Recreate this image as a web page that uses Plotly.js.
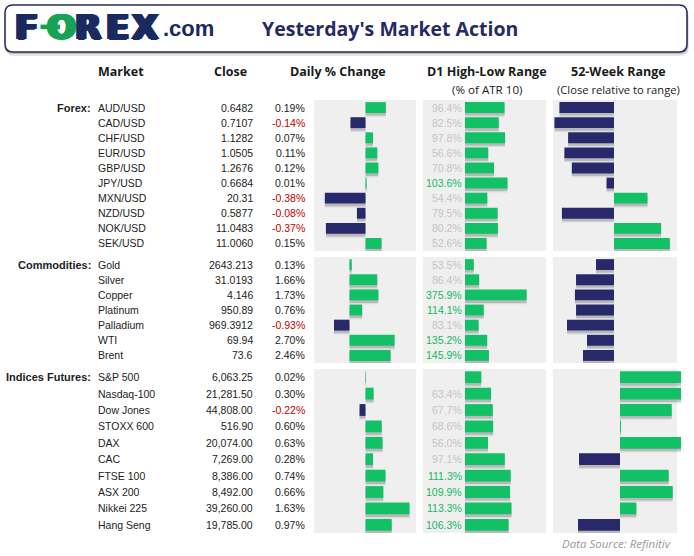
<!DOCTYPE html>
<html>
<head>
<meta charset="utf-8">
<script src="https://cdn.plot.ly/plotly-3.0.1.min.js"></script>
<style>html,body{margin:0;padding:0;background:#fff;}#chart{width:694px;height:556px;}</style>
</head>
<body>
<div id="chart"></div>
<script>
// ---------------- DATA ----------------
const columnHeaders = ['Market', 'Close', 'Daily % Change', 'D1 High-Low Range', '52-Week Range'];
const columnSubHeaders = ['(% of ATR 10)', '(Close relative to range)'];
const sectionLabels = ['Forex:', 'Commodities:', 'Indices Futures:'];

const fxMarkets = ['AUD/USD','CAD/USD','CHF/USD','EUR/USD','GBP/USD','JPY/USD','MXN/USD','NZD/USD','NOK/USD','SEK/USD'];
const fxClose   = ['0.6482','0.7107','1.1282','1.0505','1.2676','0.6684','20.31','0.5877','11.0483','11.0060'];
const fxChange  = [0.19,-0.14,0.07,0.11,0.12,0.01,-0.38,-0.08,-0.37,0.15];
const fxD1      = [96.4,82.5,97.8,56.6,70.8,103.6,54.4,79.5,80.2,52.6];
const fxD1Labels = ['96.4%','82.5%','97.8%','56.6%','70.8%','103.6%','54.4%','79.5%','80.2%','52.6%'];
const fxWeek52  = [-44,-48,-37,-40,-34,-6,27,-42,38,45];

const cmMarkets = ['Gold','Silver','Copper','Platinum','Palladium','WTI','Brent'];
const cmClose   = ['2643.213','31.0193','4.146','950.89','969.3912','69.94','73.6'];
const cmChange  = [0.13,1.66,1.73,0.76,-0.93,2.70,2.46];
const cmD1      = [53.5,86.4,375.9,114.1,83.1,135.2,145.9];
const cmD1Labels = ['53.5%','86.4%','375.9%','114.1%','83.1%','135.2%','145.9%'];
const cmWeek52  = [-14.5,-30.6,-31.5,-30.6,-37.9,-21.8,-25];

const ixMarkets = ['S&P 500','Nasdaq-100','Dow Jones','STOXX 600','DAX','CAC','FTSE 100','ASX 200','Nikkei 225','Hang Seng'];
const ixClose   = ['6,063.25','21,281.50','44,808.00','516.90','20,074.00','7,269.00','8,386.00','8,492.00','39,260.00','19,785.00'];
const ixChange  = [0.02,0.30,-0.22,0.60,0.63,0.28,0.74,0.66,1.63,0.97];
const ixD1      = [39.7,63.4,67.7,68.6,56.0,97.1,111.3,109.9,113.3,106.3];
const ixD1Labels = ['','63.4%','67.7%','68.6%','56.0%','97.1%','111.3%','109.9%','113.3%','106.3%'];
const ixWeek52  = [50,50,42.4,0.8,50,-33.6,39.9,43.2,13.4,-34.4];

// ---------------- LAYOUT HELPERS ----------------
const W = 694, H = 556;
const X = p => p / W, Y = p => 1 - p / H;
const GREEN = '#12c165', NAVY = '#28296b';
const PANEL = '#efefef';
const TXT = '#222222';
const ROWFONT = 'Liberation Sans, Arial, sans-serif';
const HEADFONT = 'Open Sans, sans-serif';

const sections = [
  {label: sectionLabels[0], markets: fxMarkets, close: fxClose, change: fxChange, d1: fxD1, d1Labels: fxD1Labels, wk: fxWeek52,
   top: 100, bottom: 251, chgZero: 365.5, chgK: 107, d1K: 0.41, wkZero: 614, wkK: 1.24},
  {label: sectionLabels[1], markets: cmMarkets, close: cmClose, change: cmChange, d1: cmD1, d1Labels: cmD1Labels, wk: cmWeek52,
   top: 257, bottom: 363, chgZero: 349.5, chgK: 16.7, d1K: 0.164, wkZero: 614, wkK: 1.24},
  {label: sectionLabels[2], markets: ixMarkets, close: ixClose, change: ixChange, d1: ixD1, d1Labels: ixD1Labels, wk: ixWeek52,
   top: 369, bottom: 533, chgZero: 365.5, chgK: 27, d1K: 0.41, wkZero: 620, wkK: 1.22}
];

const layout = {
  width: W, height: H,
  margin: {l: 0, r: 0, t: 0, b: 0},
  paper_bgcolor: '#ffffff',
  plot_bgcolor: 'rgba(0,0,0,0)',
  barmode: 'overlay',
  showlegend: false,
  annotations: [],
  shapes: []
};
const traces = [];

function ann(o) {
  layout.annotations.push(Object.assign({showarrow: false, borderpad: 0, yanchor: 'middle'}, o));
}

sections.forEach((s, si) => {
  const n = s.markets.length;
  const rows = s.markets.map((_, i) => i);
  const pitch = (s.bottom - s.top) / n;
  const bw = 0.72;
  const sh = 2.6 / pitch;
  const cols = [
    {vals: s.change, left: 314, right: 416, zero: s.chgZero, k: s.chgK, two: true},
    {vals: s.d1, left: 423, right: 546, zero: 465, k: s.d1K, two: false},
    {vals: s.wk, left: 553, right: 677, zero: s.wkZero, k: s.wkK, two: true}
  ];
  cols.forEach((c, ci) => {
    const idx = si * 3 + ci + 1;
    const sfx = idx === 1 ? '' : String(idx);
    // grey panel
    layout.shapes.push({type: 'rect', xref: 'paper', yref: 'paper', layer: 'below',
      x0: X(c.left), x1: X(c.right), y0: Y(s.bottom), y1: Y(s.top), fillcolor: PANEL, line: {width: 0}});
    const right = c.right + 8; // allow bars to run slightly past the panel
    layout['xaxis' + sfx] = {
      domain: [X(c.left), X(right)],
      range: [-(c.zero - c.left) / c.k, (right - c.zero) / c.k],
      visible: false, showgrid: false, zeroline: false, fixedrange: true, anchor: 'y' + sfx
    };
    layout['yaxis' + sfx] = {
      domain: [Y(s.bottom), Y(s.top)],
      range: [n - 0.5, -0.5],
      visible: false, showgrid: false, zeroline: false, fixedrange: true, anchor: 'x' + sfx
    };
    const colors = c.vals.map(v => (c.two && v < 0) ? NAVY : GREEN);
    traces.push({type: 'bar', orientation: 'h', x: c.vals, y: rows, xaxis: 'x' + sfx, yaxis: 'y' + sfx,
      width: bw, offset: -bw / 2 + sh * 1.5, marker: {color: 'rgba(0,0,0,0.08)', line: {width: 0}},
      hoverinfo: 'skip'});
    traces.push({type: 'bar', orientation: 'h', x: c.vals, y: rows, xaxis: 'x' + sfx, yaxis: 'y' + sfx,
      width: bw, offset: -bw / 2 + sh, marker: {color: 'rgba(0,0,0,0.16)', line: {width: 0}},
      hoverinfo: 'skip'});
    traces.push({type: 'bar', orientation: 'h', x: c.vals, y: rows, xaxis: 'x' + sfx, yaxis: 'y' + sfx,
      width: bw, offset: -bw / 2, marker: {color: colors, line: {width: 0}},
      hoverinfo: 'skip'});
  });

  const yref = 'y' + (si === 0 ? '' : String(si * 3 + 1));
  ann({xref: 'paper', yref: yref, x: X(92), y: 0, xanchor: 'right', text: '<b>' + s.label + '</b>',
       font: {family: ROWFONT, size: 11, color: TXT}});
  s.markets.forEach((m, i) => {
    ann({xref: 'paper', yref: yref, x: X(97), y: i, xanchor: 'left', text: m,
         font: {family: ROWFONT, size: 10.5, color: TXT}});
    ann({xref: 'paper', yref: yref, x: X(253.5), y: i, xanchor: 'right', text: s.close[i],
         font: {family: ROWFONT, size: 10.5, color: TXT}});
    const v = s.change[i];
    ann({xref: 'paper', yref: yref, x: X(305.5), y: i, xanchor: 'right', text: v.toFixed(2) + '%',
         font: {family: ROWFONT, size: 10.5, color: v < 0 ? '#c00000' : TXT}});
    if (s.d1Labels[i]) {
      ann({xref: 'paper', yref: yref, x: X(463), y: i, xanchor: 'right', text: s.d1Labels[i],
           font: {family: ROWFONT, size: 10.5, color: s.d1[i] >= 100 ? '#14b863' : '#c4c4c4'}});
    }
  });
});

// column headers
const headX = [121, 230, 338, 487, 618];
columnHeaders.forEach((h, i) => ann({xref: 'paper', yref: 'paper', x: X(headX[i]), y: Y(72), xanchor: 'center',
  text: '<b>' + h + '</b>', font: {family: HEADFONT, size: 12.5, color: '#1a1a1a'}}));
const subX = [487, 618.5];
const subSize = [11.6, 11.2];
columnSubHeaders.forEach((h, i) => ann({xref: 'paper', yref: 'paper', x: X(subX[i]), y: Y(89), xanchor: 'center',
  text: h, font: {family: HEADFONT, size: subSize[i], color: '#1a1a1a'}}));

// footer
ann({xref: 'paper', yref: 'paper', x: X(672), y: Y(543), xanchor: 'right',
  text: '<i>Data Source: Refinitiv</i>', font: {family: HEADFONT, size: 11.5, color: '#9a9a9a'}});

// header box
function roundRect(x0, y0, x1, y1, r) {
  const rx = r / W, ry = r / H;
  const a = X(x0), b = X(x1), t = Y(y0), u = Y(y1);
  return `M ${a + rx},${t} L ${b - rx},${t} Q ${b},${t} ${b},${t - ry} L ${b},${u + ry} Q ${b},${u} ${b - rx},${u} ` +
         `L ${a + rx},${u} Q ${a},${u} ${a},${u + ry} L ${a},${t - ry} Q ${a},${t} ${a + rx},${t} Z`;
}
layout.shapes.push({type: 'path', xref: 'paper', yref: 'paper', layer: 'below', path: roundRect(5, 8, 689, 56, 9),
  fillcolor: 'rgba(0,0,0,0.10)', line: {width: 0}});
layout.shapes.push({type: 'path', xref: 'paper', yref: 'paper', layer: 'below', path: roundRect(5, 6, 688, 54, 8),
  fillcolor: 'rgba(0,0,0,0.18)', line: {width: 0}});
layout.shapes.push({type: 'path', xref: 'paper', yref: 'paper', layer: 'below', path: roundRect(5, 5, 687, 52, 8),
  fillcolor: '#ffffff', line: {color: '#2b2d5e', width: 1.6}});

// logo
const LOGO_NAVY = '#1b2a5e', LOGO_GREEN = '#17a356';
const heavy = c => `1px 0 0 ${c}, -1px 0 0 ${c}, 2px 0 0 ${c}, -2px 0 0 ${c}, 0 0.5px 0 ${c}`;
const logoLetters = [['F', 26.5, LOGO_NAVY], ['O', 61, LOGO_GREEN], ['R', 88.5, LOGO_NAVY], ['E', 117.5, LOGO_NAVY], ['X', 145, LOGO_NAVY]];
logoLetters.forEach(l => ann({xref: 'paper', yref: 'paper', x: X(l[1]), y: Y(27), xanchor: 'center',
  text: '<b>' + l[0] + '</b>', font: {family: 'DejaVu Sans, sans-serif', size: 34, color: l[2], shadow: heavy(l[2])}}));
layout.shapes.push({type: 'rect', xref: 'paper', yref: 'paper', layer: 'above',
  x0: X(40.5), x1: X(60), y0: Y(29.2), y1: Y(24.6), fillcolor: LOGO_GREEN, line: {width: 0}});
ann({xref: 'paper', yref: 'paper', x: X(188.5), y: Y(28), xanchor: 'center',
  text: '<b>.com</b>', font: {family: 'Liberation Sans, Arial, sans-serif', size: 22, color: LOGO_NAVY}});

// title
ann({xref: 'paper', yref: 'paper', x: X(390), y: Y(28), xanchor: 'center',
  text: "<b>Yesterday's Market Action</b>", font: {family: HEADFONT, size: 19.5, color: '#262a64'}});

Plotly.newPlot('chart', traces, layout, {displayModeBar: false, staticPlot: true});
</script>
</body>
</html>
